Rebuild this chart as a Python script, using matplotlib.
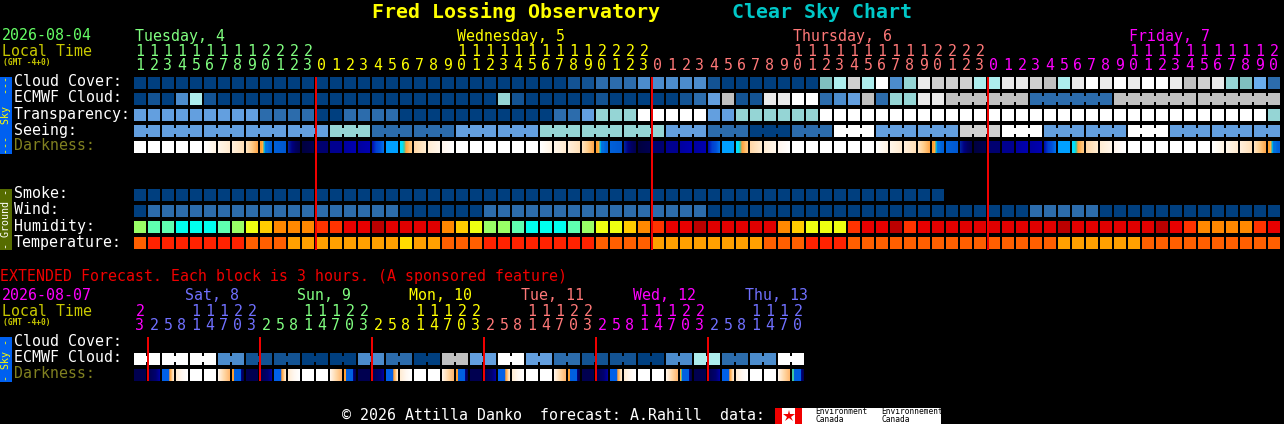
"""Clear Sky Chart for Fred Lossing Observatory, redrawn with rectangles on a pixel-sized axes."""
from __future__ import annotations

import matplotlib
matplotlib.use("Agg")
import matplotlib.pyplot as plt
import numpy as np
from matplotlib.colors import to_rgb
from matplotlib.patches import Rectangle

# ---------- series, one code per block ----------
CLOUD = list("0000000000" "0000000000" "0000000000" "0112223333" "3100000005"
             "7g7W369ggg" "7799g879W9" "W9WW98g965" "L2")
ECMWF = list("0103710000" "0000000000" "0000006100" "0001000001" "2481199WW2"
             "3482669988" "8888222222" "888888888888")
ECMWF_LINKS = [(58, 63), (64, 69), (70, 75), (76, 81)]
TRANSP = list("4444444442" "2220022220" "0000000000" "224666WWWW" "W44666666W"
              "WWWWWWWWWW" "WWWWWWWWWW" "WWWWWWWWWW" "W6")
SEEING_SIZES = [2, 3, 3, 3, 3, 3, 3, 3, 3, 3, 3, 3, 3, 3, 3, 3, 3, 3, 3, 3, 3, 3, 3, 3, 3, 3, 3, 2]
SEEING_BLOCKS = list("4444462244666420" "2W44gW44W444")
DARK = list("wwwwwabcdefghijkkmnopqrw" "wwwwwabcdefghijkkmnopqrw"
            "wwwwwabcdefghijkkmnopqrw" "wwwwwabcde")
SMOKE = list("0000000000" "0000000000" "0000000000" "0000000000" "0000000000" "00000000")
WIND = list("0222222222" "2222222220" "0000022222" "2222222222" "2000000000"
            "0000000000" "0000222220" "000000000000")
HUMID = list("lmmcccmlyG" "ooorrRRDEE" "EEoGyllmcc" "cmlyyGorRR" "DEEEEEoGyy"
             "yrRRDrREEE" "EEEEEEDEEE" "EEEDRroooo" "rR")
TEMP = list("FTTTTTTTFF" "FAAAAAAAAY" "AAFFFTTTTT" "TTTFFFFAAA" "AAAAAFFFTT"
            "TFFFFFFFFF" "FFFFFFAAAA" "AAFFFFFFFF" "FF")

EXT_ECMWF = list("WWW3110032" "084W4" "2110372" "3W")
EXT_DARK = list("ABCDwwEF" "ABCDwwEF" "ABCDwwEF" "ABCDwwEF" "ABCDwwEG" "ABCDwwEH")

# ---------- colours ----------
SKY = {"0": "#003F7F", "1": "#135393", "2": "#2C6CAC", "3": "#4C8CCC", "4": "#639FDF",
       "5": "#7FBFBF", "6": "#95D5D5", "7": "#ADEDED", "8": "#C0C0C0", "9": "#EAEAEA",
       "W": "#FFFFFF", "g": "#D0D0D0", "L": "#6AAEEE"}
GROUND = {"l": "#99FF66", "m": "#5FFFB0", "c": "#00FFEE", "y": "#EEFF11", "G": "#FFCC00",
          "o": "#FF8800", "r": "#FF3300", "R": "#E80000", "E": "#E00000", "D": "#BB0000",
          "F": "#FF5F00", "T": "#FF2200", "A": "#FFA000", "Y": "#FFDD00"}
DARK_STOPS = {
    "w": ["#FFFFFF", "#FFFFFF"],
    "a": ["#FFFFFF", "#FFF4E4"],
    "b": ["#FFF6EA", "#FFEBD0"],
    "c": ["#FFEFDB", "#FFE0B8"],
    "d": ["#FFE3BE", "#FFCC88", "#FFA84C"],
    "e": ["#FFA030", "#FFA030", "#FFB040", "#80B080", "#00B0E0", "#0078E0",
          "#0070E0", "#0070E0", "#0068DC", "#0064D8", "#0060D8", "#0060D8"],
    "f": ["#0060D8", "#0058D0"],
    "g": ["#0020A0", "#000080", "#000060", "#000050"],
    "h": ["#000040", "#000050"],
    "i": ["#000070", "#000070"],
    "j": ["#000090", "#000090"],
    "k": ["#0000A0", "#0000B0"],
    "m": ["#0010B0", "#0040D0", "#0050D8", "#0070E8"],
    "n": ["#00A0FF", "#00A0FF"],
    "o": ["#00E0FF", "#00E0FF", "#40C8A0", "#FFA040", "#FFB050", "#FFC070", "#FFC880"],
    "p": ["#FFD8A8", "#FFECD0"],
    "q": ["#FFEDD5", "#FFF6EA"],
    "r": ["#FFF6EE", "#FFFFFF"],
    "A": ["#000050", "#000050"],
    "B": ["#000050", "#000060", "#000070", "#0000A0"],
    "C": ["#0060E8", "#0060E8", "#0060E8", "#0060E8", "#0060E8", "#0060E8",
          "#FFA040", "#FFB860", "#FFD8A8", "#FFE8C8"],
    "D": ["#FFECD4", "#FFF8F0", "#FFFFFF"],
    "E": ["#FFF4E8", "#FFD8A8", "#FFB870"],
    "F": ["#FFA030", "#FFA030", "#0060E0", "#0060E0", "#0060E0", "#0060E0", "#0060E0",
          "#0060E0", "#0060E0", "#000080", "#000060", "#000050"],
    "G": ["#FFA030", "#50C090", "#0060E0", "#0060E0", "#0060E0", "#0060E0", "#0060E0",
          "#0060E0", "#0060E0", "#000080", "#000060", "#000050"],
    "H": ["#40C8A0", "#40C8A0", "#0060E0", "#0060E0", "#0060E0", "#0060E0", "#0060E0",
          "#0060E0", "#0060E0", "#000080", "#000060", "#000050"],
}

# ---------- labels ----------
MAIN_DAYS = ["Tuesday, 4", "Wednesday, 5", "Thursday, 6", "Friday, 7"]
MAIN_TENS = ["1111111112222", "          11111111112222", "          11111111112222",
             "          11111111112"]
MAIN_ONES = ["1234567890123", "012345678901234567890123", "012345678901234567890123",
             "012345678901234567890"]
MAIN_COLORS = ["#80FF80", "#FFFF00", "#FF7878", "#FF00FF"]

EXT_DAYS = ["", "Sat, 8", "Sun, 9", "Mon, 10", "Tue, 11", "Wed, 12", "Thu, 13"]
EXT_TENS = ["2", "   11122", "   11122", "   11122", "   11122", "   11122", "   1112"]
EXT_ONES = ["3", "25814703", "25814703", "25814703", "25814703", "25814703", "2581470"]
EXT_COLORS = ["#FF00FF", "#7070FF", "#80FF80", "#FFFF00", "#FF7878", "#FF00FF", "#7070FF"]

X0 = 134
PITCH = 14
CELL = 12
MONO = "DejaVu Sans Mono"
FS = 10.75


def text(ax, x, y, s, color="white", size=FS, **kw):
    ax.text(x, y + 1, s, color=color, fontsize=size, family=MONO, va="center", ha=kw.pop("ha", "left"), **kw)


def rect(ax, x, y, w, h, color, zorder=2):
    # no snapping, the coordinates are whole pixels already
    ax.add_patch(Rectangle((x, y), w, h, fc=color, ec="none", lw=0, snap=False, antialiased=False, zorder=zorder))


def cell(ax, i, y, color):
    rect(ax, X0 + PITCH * i, y, CELL, CELL, color)


def link(ax, i, y, color):
    # little bridge between two blocks of the same forecast period
    rect(ax, X0 + PITCH * i + CELL, y + 3, PITCH - CELL, CELL - 6, color)


def blocks(ax, codes, y, palette=SKY):
    for i, c in enumerate(codes):
        cell(ax, i, y, palette[c])


def dark_row(ax, codes, y):
    for i, c in enumerate(codes):
        stops = np.array([to_rgb(s) for s in DARK_STOPS[c]])
        pos = np.linspace(0, 1, len(stops))
        px = np.linspace(0, 1, CELL)
        img = np.stack([np.interp(px, pos, stops[:, k]) for k in range(3)], axis=1)[None, :, :]
        x = X0 + PITCH * i
        ax.imshow(img, extent=(x, x + CELL, y + CELL, y), aspect="auto", interpolation="nearest", zorder=1)


def hour_labels(ax, tens, ones, colors, y_tens, y_ones):
    i = 0
    for t, o, col in zip(tens, ones, colors):
        for j in range(len(o)):
            if t[j] != " ":
                text(ax, X0 + 6 + PITCH * (i + j), y_tens, t[j], col, ha="center")
            text(ax, X0 + 6 + PITCH * (i + j), y_ones, o[j], col, ha="center")
        i += len(o)


def main() -> None:
    fig = plt.figure(figsize=(12.84, 4.24), dpi=100, facecolor="black")
    ax = fig.add_axes([0, 0, 1, 1], facecolor="black")

    # ---------- header ----------
    text(ax, 372, 11, "Fred Lossing Observatory", "#FFFF00", 14.3, weight="bold")
    text(ax, 732, 11, "Clear Sky Chart", "#00C8C8", 14.3, weight="bold")
    text(ax, 2, 35, "2026-08-04", "#66FF66")
    text(ax, 2, 50, "Local Time", "#C8C800")
    text(ax, 3, 61, "(GMT -4+0)", "#C8C800", 5.7, weight="bold")
    for day, col, x in zip(MAIN_DAYS, MAIN_COLORS, [135, 457, 793, 1129]):
        text(ax, x, 35, day, col)
    hour_labels(ax, MAIN_TENS, MAIN_ONES, MAIN_COLORS, 50, 64)

    # ---------- sky ----------
    rect(ax, 0, 77, 12, 77, "#0060F0")
    text(ax, 6, 114, "---  Sky  ---", "#FFFF00", 7.2, rotation=90, ha="center")
    for y, name, col in [(81, "Cloud Cover:", "white"), (97, "ECMWF Cloud:", "white"),
                         (113, "Transparency:", "white"), (129, "Seeing:", "white"),
                         (145, "Darkness:", "#808020")]:
        text(ax, 14, y, name, col)
    blocks(ax, CLOUD, 77)
    blocks(ax, ECMWF, 93)
    for a, b in ECMWF_LINKS:
        for i in range(a, b):
            link(ax, i, 93, SKY[ECMWF[i]])
    blocks(ax, TRANSP, 109)
    i = 0
    for size, code in zip(SEEING_SIZES, SEEING_BLOCKS):
        for j in range(size):
            cell(ax, i + j, 125, SKY[code])
            if j < size - 1:
                link(ax, i + j, 125, SKY[code])
        i += size
    dark_row(ax, DARK, 141)

    # ---------- ground ----------
    rect(ax, 0, 189, 12, 61, "#566C00")
    text(ax, 6, 218, "- Ground -", "white", 7.2, rotation=90, ha="center")
    for y, name in [(193, "Smoke:"), (209, "Wind:"), (225, "Humidity:"), (241, "Temperature:")]:
        text(ax, 14, y, name)
    blocks(ax, SMOKE, 189)
    blocks(ax, WIND, 205)
    blocks(ax, HUMID, 221, GROUND)
    blocks(ax, TEMP, 237, GROUND)

    for x in [315, 651, 987]:
        rect(ax, x, 77, 2, 173, "#F00000", zorder=3)

    # ---------- extended ----------
    text(ax, 0, 276, "EXTENDED Forecast. Each block is 3 hours. (A sponsored feature)", "#F00000")
    text(ax, 2, 295, "2026-08-07", "#FF00FF")
    text(ax, 2, 310, "Local Time", "#C8C800")
    text(ax, 3, 321, "(GMT -4+0)", "#C8C800", 5.7, weight="bold")
    for day, col, x in zip(EXT_DAYS, EXT_COLORS, [135, 185, 297, 409, 521, 633, 745]):
        text(ax, x, 295, day, col)
    hour_labels(ax, EXT_TENS, EXT_ONES, EXT_COLORS, 310, 324)

    rect(ax, 0, 337, 12, 45, "#0060F0")
    text(ax, 6, 359, "- Sky -", "#FFFF00", 7.2, rotation=90, ha="center")
    for y, name, col in [(341, "Cloud Cover:", "white"), (357, "ECMWF Cloud:", "white"),
                         (373, "Darkness:", "#808020")]:
        text(ax, 14, y, name, col)
    for k, code in enumerate(EXT_ECMWF):
        c = SKY[code]
        cell(ax, 2 * k, 353, c)
        cell(ax, 2 * k + 1, 353, c)
        link(ax, 2 * k, 353, c)
    dark_row(ax, EXT_DARK, 369)
    for x in [147, 259, 371, 483, 595, 707]:
        rect(ax, x, 337, 2, 44, "#F00000", zorder=3)

    # ---------- footer ----------
    text(ax, 342, 415, "\u00a9 2026 Attilla Danko  forecast: A.Rahill  data:")
    rect(ax, 775, 408, 166, 16, "white")
    rect(ax, 775, 408, 7, 16, "#F00000", zorder=3)
    rect(ax, 795, 408, 7, 16, "#F00000", zorder=3)
    ax.plot([788.5], [416], marker="*", ms=9, color="#F00000", mew=0, zorder=3)
    for x, name in [(815, "Environment"), (881, "Environnement")]:
        text(ax, x, 411, name, "black", 5.7, zorder=4)
        text(ax, x, 419, "Canada", "black", 5.7, zorder=4)

    ax.set_xlim(0, 1284)
    ax.set_ylim(424, 0)
    ax.axis("off")
    fig.savefig("out.png", dpi=100, facecolor="black")
    plt.close(fig)


if __name__ == "__main__":
    main()
